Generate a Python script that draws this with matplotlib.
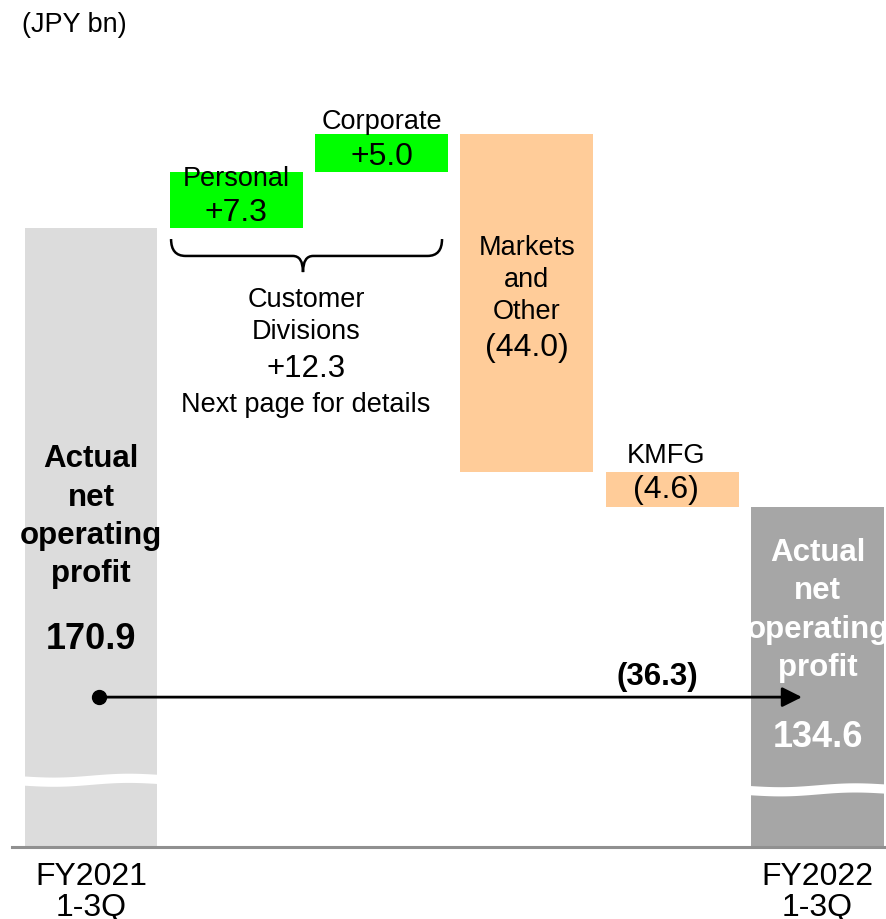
import numpy as np
import matplotlib
matplotlib.use("Agg")
import matplotlib.pyplot as plt
from matplotlib.path import Path
from matplotlib.patches import PathPatch

plt.rcParams["font.family"] = ["Liberation Sans", "DejaVu Sans"]

# data (JPY bn)
start_value = 170.9
end_value = 134.6
step_names = ["Personal", "Corporate", "Markets\nand\nOther", "KMFG"]
step_values = [7.3, 5.0, -44.0, -4.6]
step_labels = ["+7.3", "+5.0", "(44.0)", "(4.6)"]
total_change = -36.3
customer_total = 12.3
tick_labels = ["FY2021\n1-3Q", "FY2022\n1-3Q"]

c_start = "#dcdcdc"
c_end = "#a6a6a6"
c_up = "#00ff00"
c_down = "#ffcc99"

fig = plt.figure(figsize=(8.86, 9.2), dpi=100)
ax = fig.add_axes([0, 72 / 920, 1, 848 / 920])
y_floor = 90.4
ax.set_ylim(y_floor, y_floor + 848 / 7.686)
ax.set_xlim(-91 / 145.3, (886 - 91) / 145.3)
w = 0.915

# waterfall
x = np.arange(len(step_values) + 2)
ax.bar(x[0], start_value, width=w, color=c_start, zorder=1)
ax.bar(x[-1], end_value, width=w, color=c_end, zorder=1)
level = start_value
for i, v in enumerate(step_values):
    bottom = level if v > 0 else level + v
    ax.bar(x[i + 1], abs(v), bottom=bottom, width=w,
           color=c_up if v > 0 else c_down, zorder=1)
    level += v

# axis break bands
for xi, yc in [(x[0], 99.05), (x[-1], 97.8)]:
    xx = np.linspace(xi - w / 2 - 0.01, xi + w / 2 + 0.01, 100)
    t = (xx - xx[0]) / (xx[-1] - xx[0])
    yy = yc - 0.2 * np.sin(2 * np.pi * t) + 0.2 * t
    ax.fill_between(xx, yy - 0.6, yy + 0.6, color="white", lw=0, zorder=2)

# spines / axis
for s in ["top", "right", "left"]:
    ax.spines[s].set_visible(False)
ax.spines["bottom"].set_color("#909090")
ax.spines["bottom"].set_linewidth(2.2)
ax.spines["bottom"].set_bounds(-0.544, ax.get_xlim()[1])
ax.set_yticks([])
ax.set_xticks([x[0], x[-1]])
ax.set_xticklabels(tick_labels, fontsize=23)
ax.tick_params(axis="x", length=0, pad=10)
for lab in ax.get_xticklabels():
    lab.set_linespacing(1.04)

fig.text(22 / 886, 1 - 25 / 920, "(JPY bn)", fontsize=19.5, va="center", ha="left")

# step labels
ax.text(x[1], 177.4, step_names[0], ha="center", va="center", fontsize=19.5, zorder=3)
ax.text(x[1], 173.0, step_labels[0], ha="center", va="center", fontsize=23, zorder=3)
ax.text(x[2], 184.9, step_names[1], ha="center", va="center", fontsize=19.5, zorder=3)
ax.text(x[2], 180.3, step_labels[1], ha="center", va="center", fontsize=23, zorder=3)
ax.text(x[3], 164.3, step_names[2], ha="center", va="center", fontsize=19.5,
        linespacing=1.28, zorder=3)
ax.text(x[3], 155.5, step_labels[2], ha="center", va="center", fontsize=23, zorder=3)
ax.text(x[4] - 0.04, 141.4, step_names[3], ha="center", va="center", fontsize=19.5, zorder=3)
ax.text(x[4] - 0.04, 137.0, step_labels[3], ha="center", va="center", fontsize=23, zorder=3)

# brace under customer divisions
xl, xr, xm = 0.551, 2.416, 1.459
ytop, ymid, ytip = 169.5, 167.3, 165.2
dx, dx2 = 0.1, 0.07
verts = [(xl, ytop), (xl, ymid), (xl + dx, ymid), (xm - dx2, ymid), (xm, ymid), (xm, ytip),
         (xm, ytip), (xm, ymid), (xm + dx2, ymid), (xr - dx, ymid), (xr, ymid), (xr, ytop)]
codes = [Path.MOVETO, Path.CURVE3, Path.CURVE3, Path.LINETO, Path.CURVE3, Path.CURVE3,
         Path.MOVETO, Path.CURVE3, Path.CURVE3, Path.LINETO, Path.CURVE3, Path.CURVE3]
ax.add_patch(PathPatch(Path(verts, codes), fill=False, lw=1.8, color="black", zorder=3))

ax.text(1.48, 159.6, "Customer\nDivisions", ha="center", va="center", fontsize=19.5,
        linespacing=1.28)
ax.text(1.48, 152.7, "+%.1f" % customer_total, ha="center", va="center", fontsize=22.5)
ax.text(1.48, 148.0, "Next page for details", ha="center", va="center", fontsize=19.5)

# total bar labels
ax.text(x[0], 133.5, "Actual\nnet\noperating\nprofit", ha="center", va="center",
        fontsize=22.5, fontweight="bold", linespacing=1.36, zorder=3)
ax.text(x[0], 117.5, "%.1f" % start_value, ha="center", va="center",
        fontsize=26, fontweight="bold", zorder=3)
ax.text(x[-1], 121.3, "Actual\nnet\noperating\nprofit", ha="center", va="center",
        fontsize=22.5, fontweight="bold", linespacing=1.36, color="white", zorder=3)
ax.text(x[-1], 104.8, "%.1f" % end_value, ha="center", va="center",
        fontsize=26, fontweight="bold", color="white", zorder=3)

# overall change arrow
y_arrow = 109.9
ax.annotate("", xy=(4.893, y_arrow), xytext=(0.055, y_arrow),
            arrowprops=dict(arrowstyle="-|>,head_length=0.6,head_width=0.3",
                            lw=2, color="black", mutation_scale=20,
                            shrinkA=0, shrinkB=0), zorder=4)
ax.plot(0.055, y_arrow, "o", ms=10, color="black", zorder=4)
ax.text(3.895, 112.6, "(%.1f)" % abs(total_change), ha="center", va="center",
        fontsize=22.5, fontweight="bold")

fig.savefig("out.png", dpi=100)
plt.close(fig)
